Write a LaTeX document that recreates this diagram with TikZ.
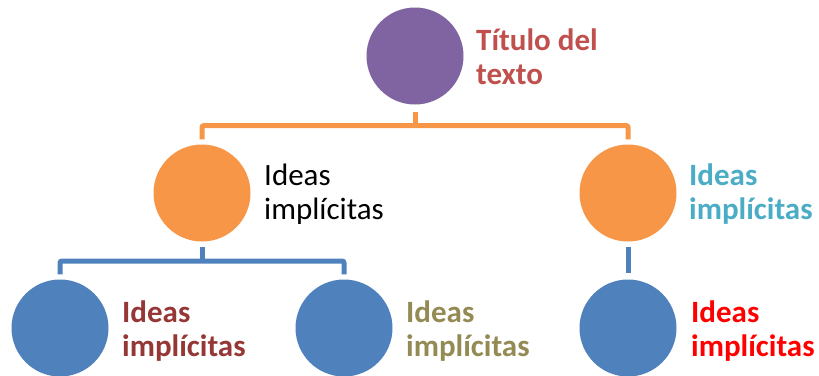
\documentclass[tikz,border=0pt]{standalone}
\usepackage{fontspec}
\setmainfont{Carlito}
\definecolor{cpurple}{RGB}{128,100,162}
\definecolor{corange}{RGB}{247,150,70}
\definecolor{cblue}{RGB}{79,129,189}
\definecolor{ctitle}{RGB}{192,80,77}
\definecolor{cteal}{RGB}{75,172,198}
\definecolor{cdred}{RGB}{149,55,53}
\definecolor{colive}{RGB}{148,138,84}
\definecolor{cred}{RGB}{255,0,0}
\tikzset{
  dot/.style={circle,minimum size=97pt,inner sep=0pt,draw=none},
  lbl/.style={anchor=west,align=left,inner sep=0pt,font=\fontsize{31}{34}\selectfont},
  bline/.style={line width=5pt,rounded corners=2pt},
}
\begin{document}
\begin{tikzpicture}[x=1pt,y=-1pt]
\useasboundingbox (0,0) rectangle (819,375);
\node[dot,fill=cpurple] (top) at (415,56) {};
\node[dot,fill=corange] (midL) at (202,193) {};
\node[dot,fill=corange] (midR) at (628,193) {};
\node[dot,fill=cblue] (botL) at (60,328) {};
\node[dot,fill=cblue] (botM) at (344,328) {};
\node[dot,fill=cblue] (botR) at (628,328) {};
\node[lbl,text=ctitle,font=\fontsize{31}{34}\selectfont\bfseries] (tTop) at (476,57) {Título del\\texto};
\node[lbl,text=black] (tMidL) at (264,194) {Ideas\\implícitas};
\node[lbl,text=cteal,font=\fontsize{31}{34}\selectfont\bfseries] (tMidR) at (689,194) {Ideas\\implícitas};
\node[lbl,text=cdred,font=\fontsize{31}{34}\selectfont\bfseries] (tBotL) at (122,331) {Ideas\\implícitas};
\node[lbl,text=colive,font=\fontsize{31}{34}\selectfont\bfseries] (tBotM) at (406,331) {Ideas\\implícitas};
\node[lbl,text=cred,font=\fontsize{31}{34}\selectfont\bfseries] (tBotR) at (691,331) {Ideas\\implícitas};
\coordinate (bus1) at (415,125.5);
\coordinate (bus2) at (202,261);
\draw[bline,corange] ([yshift=-7pt]top.south) -- (top.south |- bus1);
\draw[bline,corange] ([yshift=5pt]midL.north) |- (bus1) -| ([yshift=5pt]midR.north);
\draw[bline,cblue] ([yshift=-5pt]midL.south) -- (midL.south |- bus2);
\draw[bline,cblue] ([yshift=5pt]botL.north) |- (bus2) -| ([yshift=5pt]botM.north);
\draw[bline,cblue] ([yshift=-5pt]midR.south) -- ([yshift=6pt]botR.north);
\end{tikzpicture}
\end{document}
